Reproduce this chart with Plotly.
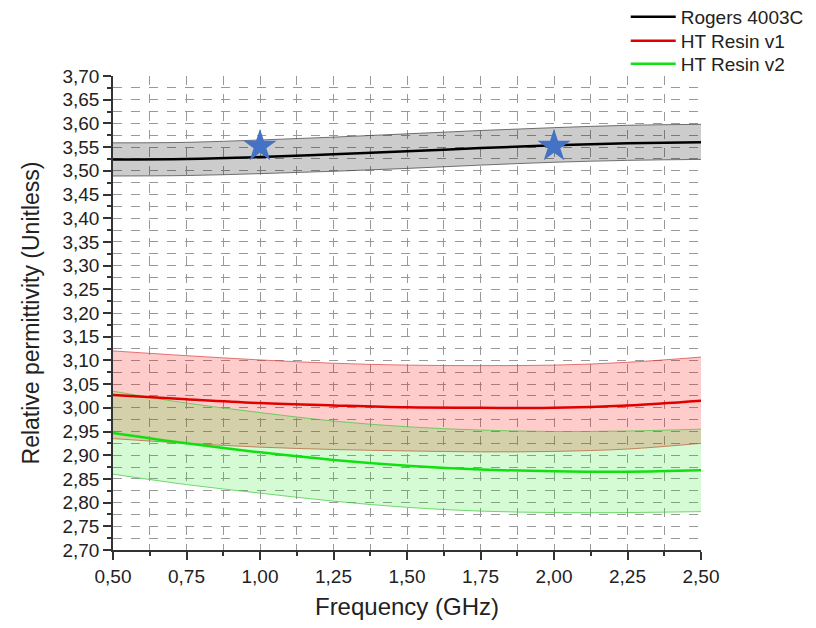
import plotly.graph_objects as go

freq = [0.50, 0.75, 1.00, 1.25, 1.50, 1.75, 2.00, 2.25, 2.50]

rogers = [3.524, 3.525, 3.529, 3.535, 3.541, 3.548, 3.554, 3.558, 3.560]
rogers_hi = [3.559, 3.560, 3.565, 3.571, 3.578, 3.585, 3.591, 3.596, 3.598]
rogers_lo = [3.489, 3.490, 3.494, 3.499, 3.505, 3.512, 3.518, 3.522, 3.524]

v1 = [3.027, 3.018, 3.010, 3.005, 3.001, 3.000, 3.000, 3.005, 3.015]
v1_hi = [3.120, 3.110, 3.101, 3.094, 3.090, 3.089, 3.090, 3.096, 3.107]
v1_lo = [2.935, 2.925, 2.917, 2.912, 2.909, 2.907, 2.908, 2.913, 2.925]

v2 = [2.947, 2.925, 2.906, 2.890, 2.878, 2.870, 2.866, 2.865, 2.868]
v2_hi = [3.035, 3.010, 2.990, 2.972, 2.960, 2.953, 2.950, 2.951, 2.955]
v2_lo = [2.860, 2.838, 2.820, 2.803, 2.790, 2.782, 2.779, 2.779, 2.781]

star_x = [1.0, 2.0]
star_y = [3.552, 3.552]

fig = go.Figure()

def band(lo, hi, line_c, fill_c):
    fig.add_trace(go.Scatter(x=freq, y=lo, mode="lines", line=dict(color=line_c, width=1, shape="spline"),
                             showlegend=False, hoverinfo="skip"))
    fig.add_trace(go.Scatter(x=freq, y=hi, mode="lines", line=dict(color=line_c, width=1, shape="spline"),
                             fill="tonexty", fillcolor=fill_c, showlegend=False, hoverinfo="skip"))

band(rogers_lo, rogers_hi, "rgba(80,80,80,0.8)", "rgba(0,0,0,0.2)")
band(v1_lo, v1_hi, "rgba(220,60,60,0.7)", "rgba(255,0,0,0.2)")
band(v2_lo, v2_hi, "rgba(60,200,60,0.7)", "rgba(0,230,0,0.17)")

fig.add_trace(go.Scatter(x=freq, y=rogers, mode="lines", name="Rogers 4003C", legend="legend",
                         line=dict(color="black", width=2.5, shape="spline")))
fig.add_trace(go.Scatter(x=freq, y=v1, mode="lines", name="HT Resin v1", legend="legend2",
                         line=dict(color="#e00000", width=2.5, shape="spline")))
fig.add_trace(go.Scatter(x=freq, y=v2, mode="lines", name="HT Resin v2", legend="legend3",
                         line=dict(color="#10e010", width=2.5, shape="spline")))
fig.add_trace(go.Scatter(x=star_x, y=star_y, mode="markers", showlegend=False,
                         marker=dict(symbol="star", size=25, color="#4472c4")))

font = "Liberation Sans, Arial, sans-serif"
leg = dict(x=0.872, xanchor="left", yanchor="middle", bgcolor="rgba(0,0,0,0)",
           font=dict(size=19), itemwidth=45)
fig.update_layout(
    width=800, height=612,
    margin=dict(l=105, r=107, t=68, b=70, autoexpand=False),
    paper_bgcolor="white", plot_bgcolor="white",
    separators=",.",
    font=dict(family=font, size=19, color="#222"),
    legend=dict(leg, y=1.1245),
    legend2=dict(leg, y=1.0738),
    legend3=dict(leg, y=1.0253),
    xaxis=dict(range=[0.5, 2.5], dtick=0.25, tick0=0.5, tickformat=".2f",
               showline=True, linecolor="#333", linewidth=1.5, ticks="outside", ticklen=8, tickwidth=1.5,
               tickcolor="#333", showgrid=True, gridcolor="#999", griddash="dash", gridwidth=1,
               zeroline=False,
               minor=dict(dtick=0.125, ticks="outside", ticklen=4, tickcolor="#333", showgrid=True,
                          gridcolor="#999", griddash="dash"),
               title=dict(text="Frequency (GHz)", font=dict(size=24), standoff=17)),
    yaxis=dict(range=[2.70, 3.70], dtick=0.05, tick0=2.70, tickformat=".2f",
               showline=True, linecolor="#333", linewidth=1.5, ticks="outside", ticklen=8, tickwidth=1.5,
               tickcolor="#333", showgrid=True, gridcolor="#999", griddash="dash", gridwidth=1,
               zeroline=False,
               minor=dict(dtick=0.025, ticks="outside", ticklen=4, tickcolor="#333", showgrid=True,
                          gridcolor="#999", griddash="dash"),
               title=dict(text="Relative permittivity (Unitless)", font=dict(size=23), standoff=16)),
)

fig.write_html("out.html")
